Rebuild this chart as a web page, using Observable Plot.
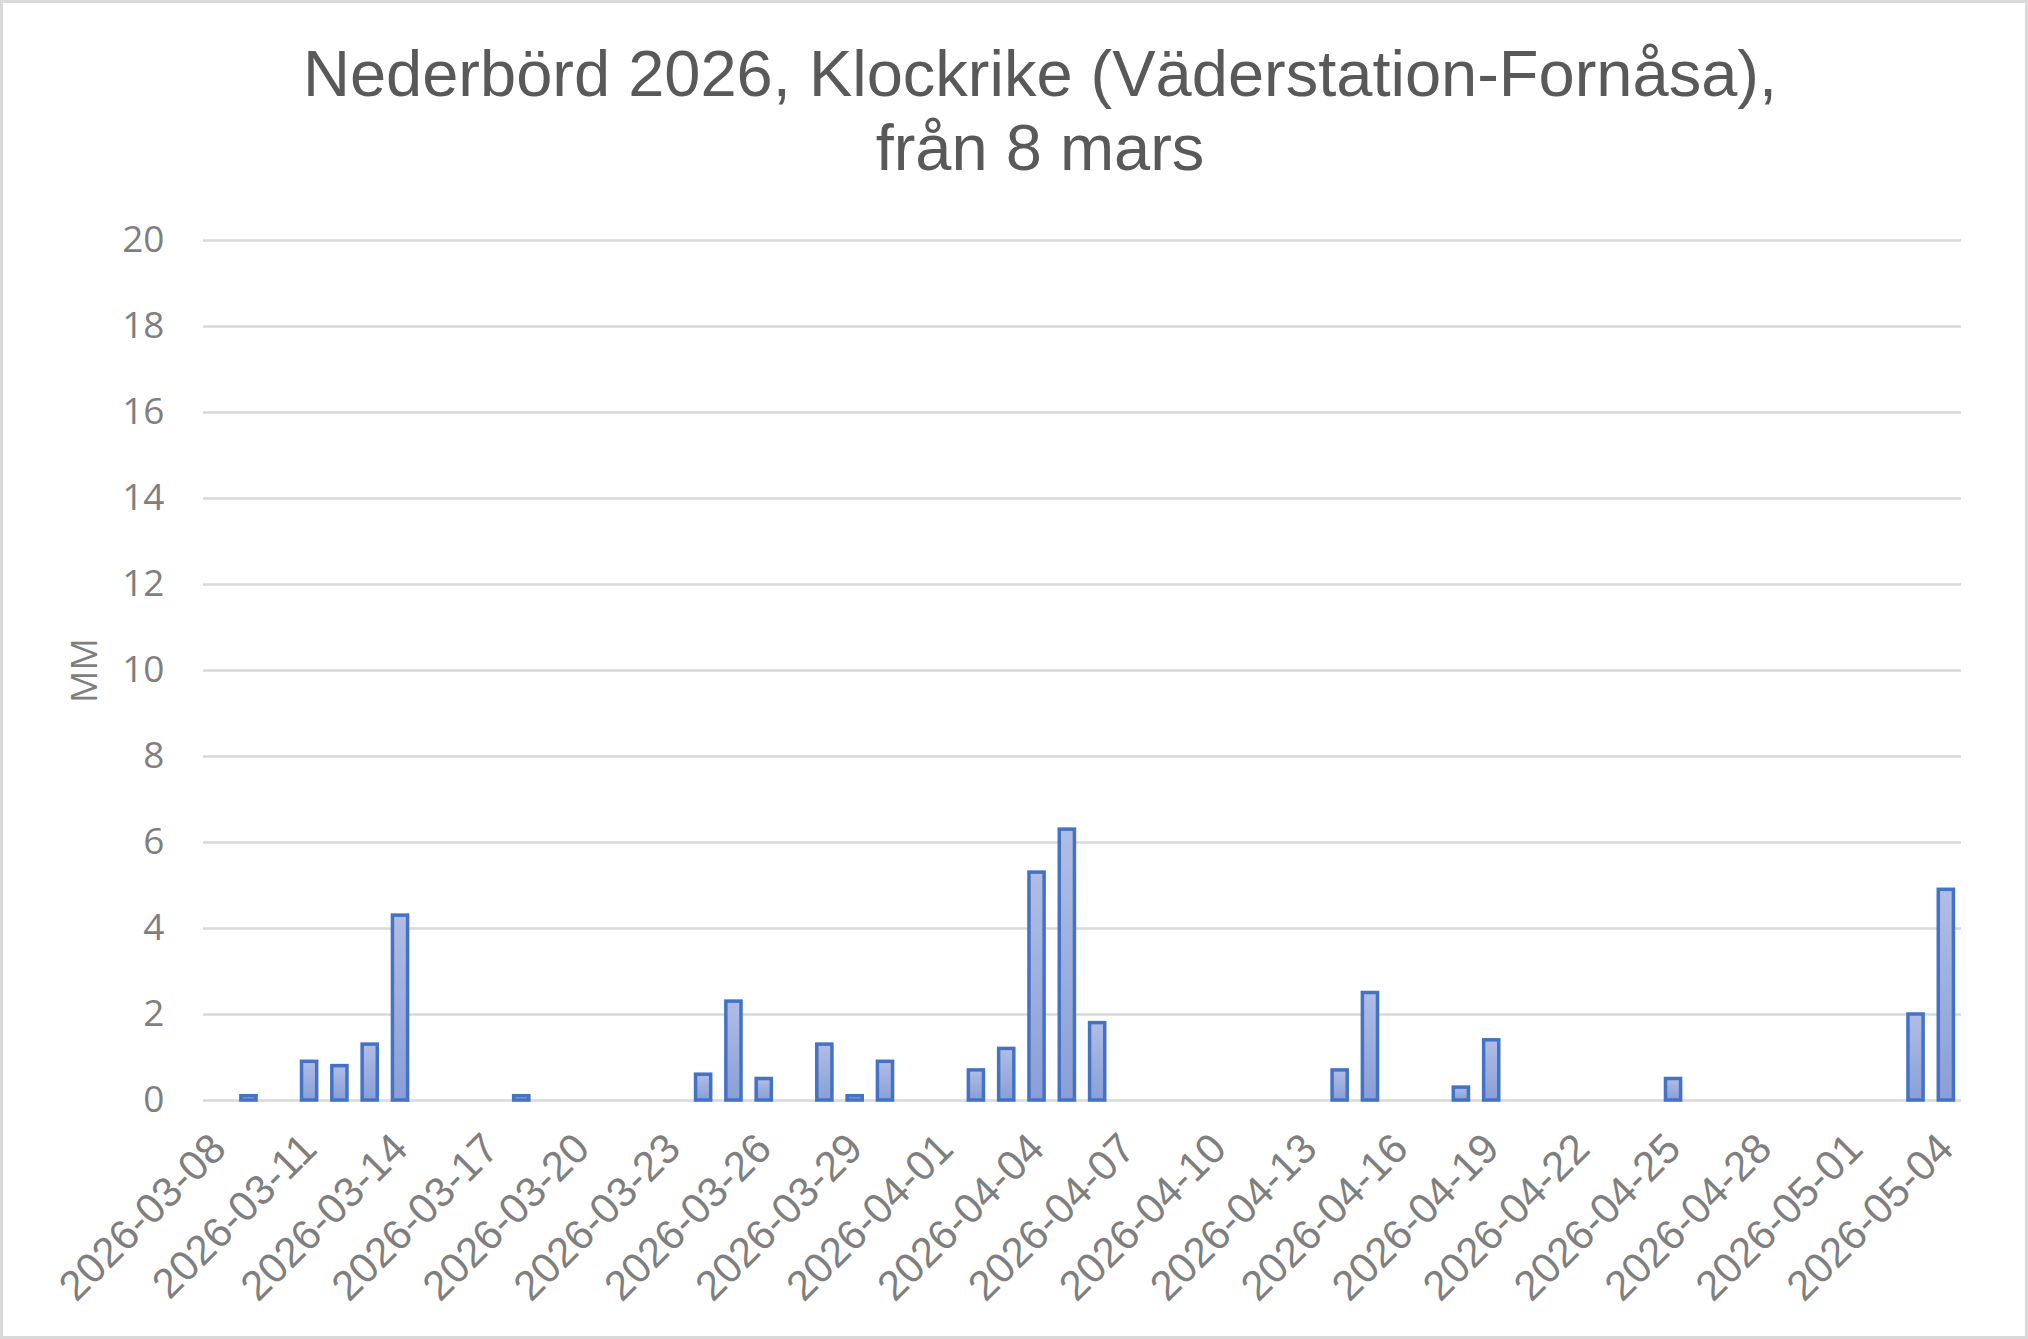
<!DOCTYPE html>
<html>
<head>
<meta charset="utf-8">
<script src="https://cdn.jsdelivr.net/npm/d3@7"></script>
<script src="https://cdn.jsdelivr.net/npm/@observablehq/plot@0.6"></script>
<style>
  html, body { margin: 0; padding: 0; background: #fff; }
  #chart {
    width: 2028px; height: 1339px; box-sizing: border-box;
    border: 3px solid #d9d9d9; background: #fff; position: relative; overflow: hidden;
  }
  #title {
    position: absolute; left: 0; top: 0; width: 2022px; height: 200px;
    text-align: center; font-family: "Liberation Sans", Arial, sans-serif;
    font-size: 65px; line-height: 74px; color: #595959; padding-top: 34px;
    box-sizing: border-box; padding-left: 52px;
  }
  #plot { position: absolute; left: 0; top: 194px; }
</style>
</head>
<body>
<div id="chart">
  <div id="title">Nederbörd 2026, Klockrike (Väderstation-Fornåsa),<br>från 8 mars</div>
  <div id="plot"></div>
</div>
<script>
const dates = [
  "2026-03-08","2026-03-09","2026-03-10","2026-03-11","2026-03-12","2026-03-13","2026-03-14",
  "2026-03-15","2026-03-16","2026-03-17","2026-03-18","2026-03-19","2026-03-20","2026-03-21",
  "2026-03-22","2026-03-23","2026-03-24","2026-03-25","2026-03-26","2026-03-27","2026-03-28",
  "2026-03-29","2026-03-30","2026-03-31","2026-04-01","2026-04-02","2026-04-03","2026-04-04",
  "2026-04-05","2026-04-06","2026-04-07","2026-04-08","2026-04-09","2026-04-10","2026-04-11",
  "2026-04-12","2026-04-13","2026-04-14","2026-04-15","2026-04-16","2026-04-17","2026-04-18",
  "2026-04-19","2026-04-20","2026-04-21","2026-04-22","2026-04-23","2026-04-24","2026-04-25",
  "2026-04-26","2026-04-27","2026-04-28","2026-04-29","2026-04-30","2026-05-01","2026-05-02",
  "2026-05-03","2026-05-04"
];
const precipitation = [
  0, 0.1, 0, 0.9, 0.8, 1.3, 4.3,
  0, 0, 0, 0.1, 0, 0, 0,
  0, 0, 0.6, 2.3, 0.5, 0, 1.3,
  0.1, 0.9, 0, 0, 0.7, 1.2, 5.3,
  6.3, 1.8, 0, 0, 0, 0, 0,
  0, 0, 0.7, 2.5, 0, 0, 0.3,
  1.4, 0, 0, 0, 0, 0, 0.5,
  0, 0, 0, 0, 0, 0, 0,
  2.0, 4.9
];
const xTickLabels = [
  "2026-03-08","2026-03-11","2026-03-14","2026-03-17","2026-03-20","2026-03-23","2026-03-26",
  "2026-03-29","2026-04-01","2026-04-04","2026-04-07","2026-04-10","2026-04-13","2026-04-16",
  "2026-04-19","2026-04-22","2026-04-25","2026-04-28","2026-05-01","2026-05-04"
];
const yTicks = [0, 2, 4, 6, 8, 10, 12, 14, 16, 18, 20];

const data = dates.map((d, i) => ({date: d, mm: precipitation[i]}));
const nonZero = data.filter(d => d.mm > 0);

const tickFont = '"Open Sans", sans-serif';
const xFont = '"Liberation Sans", Arial, sans-serif';

const chart = Plot.plot({
  width: 2022,
  height: 1139,
  marginLeft: 200,
  marginRight: 64,
  marginTop: 43,
  marginBottom: 236,
  style: {background: "transparent", fontFamily: tickFont},
  x: {type: "band", domain: dates, paddingInner: 0.5, paddingOuter: 0.25, round: false},
  y: {domain: [0, 20]},
  marks: [
    Plot.gridY(yTicks, {stroke: "#d9d9d9", strokeOpacity: 1, strokeWidth: 2.5}),
    Plot.barY(nonZero, {x: "date", y: "mm", fill: "url(#barGrad)", stroke: "#4472c4", strokeWidth: 3.5}),
    Plot.axisY(yTicks, {tickSize: 0, tickPadding: 39, fontSize: 37, fill: "#7f7f7f", label: null}),
    Plot.axisX(xTickLabels, {tickSize: 0, tickPadding: 41, tickRotate: -45, fontSize: 42, fontFamily: xFont, fill: "#7f7f7f", label: null}),
    Plot.text(["MM"], {frameAnchor: "left", dx: -118, rotate: -90, textAnchor: "middle", fontSize: 36, fill: "#7f7f7f", fontFamily: tickFont})
  ]
});

const ns = "http://www.w3.org/2000/svg";
const defs = document.createElementNS(ns, "defs");
const grad = document.createElementNS(ns, "linearGradient");
grad.setAttribute("id", "barGrad");
grad.setAttribute("x1", "0"); grad.setAttribute("y1", "0");
grad.setAttribute("x2", "0"); grad.setAttribute("y2", "1");
[["0%", "#b0bde5"], ["100%", "#8a9fd7"]].forEach(([o, c]) => {
  const s = document.createElementNS(ns, "stop");
  s.setAttribute("offset", o); s.setAttribute("stop-color", c);
  grad.appendChild(s);
});
defs.appendChild(grad);
chart.insertBefore(defs, chart.firstChild);

document.getElementById("plot").appendChild(chart);
</script>
</body>
</html>
